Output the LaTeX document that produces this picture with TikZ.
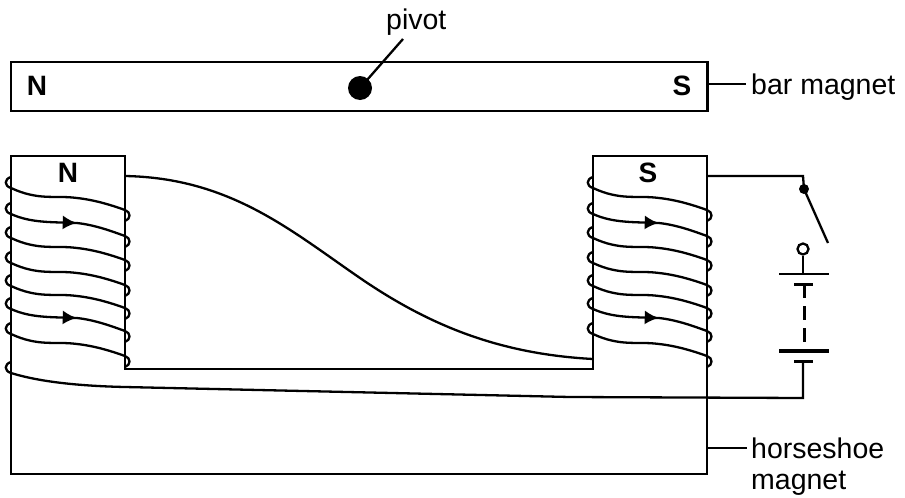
\documentclass[tikz,border=0pt]{standalone}
\usepackage{fontspec}
\setmainfont{Liberation Sans}
\usetikzlibrary{arrows.meta,decorations.markings}
\tikzset{
  wire/.style={line width=2.3pt,line join=miter},
  body/.style={line width=2.5pt},
  lbl/.style={font=\fontsize{28.5}{32}\selectfont,inner sep=0pt,anchor=base west},
  pole/.style={font=\fontsize{28}{32}\selectfont\bfseries,inner sep=0pt},
  mid/.style={postaction={decorate},decoration={markings,mark=at position #1 with {\arrow{Latex[length=14pt,width=14pt]}}}}
}
\newcommand{\coilturn}[2]{%
  \draw[wire] (#1,#2-6) .. controls (#1-7,#2-4) and (#1-7,#2+3) .. (#1,#2+5)
     .. controls (#1+28,#2+18) and (#1+44,#2+12) .. (#1+66,#2+15)
     .. controls (#1+84,#2+17) and (#1+100,#2+22) .. (#1+114,#2+27)
     .. controls (#1+120,#2+29) and (#1+120,#2+36) .. (#1+114,#2+38);
}
\newcommand{\coilarrow}[2]{%
  \draw[wire,mid=0.56] (#1,#2-6) .. controls (#1-7,#2-4) and (#1-7,#2+3) .. (#1,#2+5)
     .. controls (#1+20,#2+14) and (#1+40,#2+13) .. (#1+66,#2+14)
     .. controls (#1+84,#2+16) and (#1+100,#2+22) .. (#1+114,#2+27)
     .. controls (#1+120,#2+29) and (#1+120,#2+36) .. (#1+114,#2+38);
}
\begin{document}
\begin{tikzpicture}[x=1pt,y=-1pt]
\useasboundingbox (0,0) rectangle (905,498);
% bar magnet
\draw[body] (11,62) rectangle (707.5,111);
\node[pole] (bn) at (37,86) {N};
\node[pole] (bs) at (682,85.5) {S};
\node[circle,fill=black,minimum size=24pt,inner sep=0pt] (piv) at (360,88) {};
\node[lbl] (pt) at (386,29) {pivot};
\coordinate (pe) at (403,39);
\draw[wire] (piv.center) -- (pe);
\node[lbl] (bm) at (751,94) {bar magnet};
\coordinate (bme) at (746,84);
\draw[wire] (707.5,84) -- (bme);
% horseshoe
\draw[body] (11,156) -- (125,156) -- (125,369) -- (593,369) -- (593,156) -- (707,156) -- (707,474) -- (11,474) -- cycle;
\node[pole] (hn) at (68,173) {N};
\node[pole] (hs) at (648,173) {S};
\node[lbl] (hm1) at (751,458) {horseshoe};
\node[lbl] (hm2) at (751,489) {magnet};
\coordinate (hme) at (747,448);
\draw[wire] (707,448) -- (hme);
% coils
\foreach \xx in {11,593}{
  \coilturn{\xx}{183}
  \coilarrow{\xx}{209}
  \coilturn{\xx}{233}
  \coilturn{\xx}{258}
  \coilturn{\xx}{281}
  \coilarrow{\xx}{304}
  \coilturn{\xx}{329}
}
% connecting wires
\draw[wire] (125,176) .. controls (230,178) and (290,230) .. (360,278)
   .. controls (430,326) and (500,354) .. (593,359);
\coordinate (bat) at (803,398);
\draw[wire] (11,362) .. controls (4,364) and (4,371) .. (11,373)
   .. controls (40,382) and (80,386) .. (125,387) -- (570,397) -- (bat) -- (803,361);
% switch and cell
\node[circle,fill=black,minimum size=10pt,inner sep=0pt] (sw) at (804,189) {};
\node[circle,draw,line width=2.3pt,fill=white,minimum size=11pt,inner sep=0pt] (ct) at (803,249) {};
\draw[wire] (707,176) -- (803,176) -- (sw.center);
\coordinate (swe) at (828,243);
\draw[wire] (sw.center) -- (swe);
\coordinate (p1) at (803,274);
\draw[wire] (ct.south) -- (p1);
\draw[wire] (779,274) -- (829,274);
\draw[line width=3pt] (794,284) -- (813,284);
\draw[line width=3pt,dash pattern=on 14pt off 8pt] (804,284) -- (804,342);
\draw[line width=3.2pt] (779,351) -- (829,351);
\draw[line width=3pt] (794,361) -- (813,361);
\end{tikzpicture}
\end{document}
